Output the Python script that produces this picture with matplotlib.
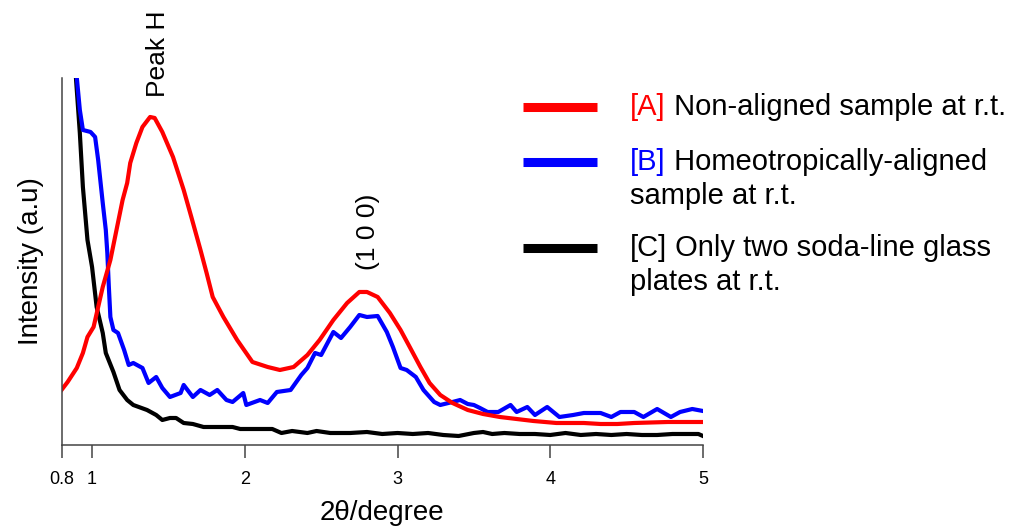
import matplotlib
matplotlib.use("Agg")
import matplotlib.pyplot as plt
from matplotlib.lines import Line2D

plt.rcParams['font.family'] = ['Liberation Sans', 'DejaVu Sans']

# [A] non-aligned sample (red)
a_x = [0.80, 0.84, 0.90, 0.94, 0.97, 1.01, 1.04, 1.07, 1.12, 1.16, 1.20, 1.23, 1.25, 1.29,
       1.33, 1.38, 1.41, 1.46, 1.53, 1.60, 1.65, 1.71, 1.75, 1.79, 1.86, 1.95, 2.05, 2.15,
       2.23, 2.32, 2.41, 2.49, 2.58, 2.67, 2.75, 2.80, 2.87, 2.95, 3.02, 3.08, 3.15, 3.21,
       3.28, 3.36, 3.46, 3.56, 3.67, 3.78, 3.89, 4.04, 4.22, 4.33, 4.44, 4.55, 4.77, 5.00]
a_y = [55, 63, 77, 92, 108, 118, 138, 158, 185, 215, 245, 262, 282, 302,
       318, 328, 327, 313, 288, 255, 228, 195, 172, 148, 128, 105, 83, 78,
       75, 78, 90, 105, 125, 142, 153, 153, 148, 132, 115, 98, 78, 62,
       50, 42, 35, 31, 28, 26, 24, 22, 22, 21, 21, 22, 23, 23]

# [B] homeotropically-aligned sample (blue)
b_x = [0.88, 0.92, 0.94, 0.99, 1.02, 1.04, 1.07, 1.09, 1.10, 1.11, 1.12, 1.14, 1.17, 1.21,
       1.24, 1.27, 1.33, 1.37, 1.42, 1.46, 1.51, 1.58, 1.60, 1.66, 1.71, 1.77, 1.82, 1.88,
       1.92, 1.99, 2.01, 2.10, 2.15, 2.21, 2.30, 2.37, 2.41, 2.46, 2.50, 2.58, 2.63, 2.69,
       2.75, 2.80, 2.87, 2.93, 2.97, 3.02, 3.06, 3.12, 3.17, 3.24, 3.28, 3.36, 3.41, 3.46,
       3.50, 3.54, 3.59, 3.66, 3.74, 3.78, 3.85, 3.90, 3.98, 4.06, 4.15, 4.22, 4.33, 4.40,
       4.46, 4.55, 4.61, 4.70, 4.79, 4.85, 4.93, 5.00]
b_y = [400, 335, 315, 313, 308, 285, 242, 215, 192, 158, 128, 115, 112, 95,
       80, 82, 77, 62, 68, 57, 48, 52, 60, 48, 55, 50, 55, 45,
       43, 52, 40, 45, 42, 53, 55, 70, 77, 92, 90, 113, 107, 118,
       130, 128, 129, 113, 98, 77, 75, 68, 55, 43, 40, 43, 45, 41,
       40, 37, 33, 33, 40, 33, 38, 30, 38, 28, 30, 32, 32, 28,
       33, 33, 28, 36, 28, 33, 36, 34]

# [C] two soda-lime glass plates only (black)
c_x = [0.87, 0.92, 0.94, 0.97, 1.00, 1.03, 1.07, 1.09, 1.14, 1.18, 1.23, 1.27, 1.36, 1.42,
       1.46, 1.51, 1.55, 1.60, 1.66, 1.73, 1.92, 1.97, 2.05, 2.18, 2.24, 2.31, 2.41, 2.47,
       2.56, 2.69, 2.80, 2.90, 3.00, 3.10, 3.20, 3.30, 3.40, 3.50, 3.56, 3.62, 3.70, 3.80,
       3.90, 4.00, 4.10, 4.20, 4.30, 4.40, 4.50, 4.60, 4.70, 4.80, 4.90, 4.97, 5.00]
c_y = [420, 312, 258, 205, 178, 138, 112, 92, 73, 55, 45, 40, 35, 30,
       25, 27, 27, 22, 21, 18, 18, 16, 16, 16, 12, 14, 12, 14,
       12, 12, 13, 11, 12, 11, 12, 10, 9, 12, 13, 11, 12, 11,
       11, 10, 12, 10, 11, 10, 11, 10, 10, 11, 11, 11, 9]

xticks = [0.8, 1, 2, 3, 4, 5]
xticklabels = ['0.8', '1', '2', '3', '4', '5']

fig = plt.figure(figsize=(10.1, 5.29), dpi=100)
ax = fig.add_axes([0.0609, 0.1588, 0.6351, 0.6938])

ax.plot(c_x, c_y, color='black', lw=3)
ax.plot(b_x, b_y, color='#0000ff', lw=3)
ax.plot(a_x, a_y, color='#ff0000', lw=3)

ax.set_xlim(0.8, 5)
ax.set_ylim(0, 367)
ax.set_yticks([])
ax.set_xticks(xticks)
ax.set_xticklabels(xticklabels, fontsize=13)
ax.tick_params(axis='x', direction='out', length=9, width=1.1, color='#444444', pad=10)
for s in ['top', 'right']:
    ax.spines[s].set_visible(False)
for s in ['left', 'bottom']:
    ax.spines[s].set_color('#444444')
    ax.spines[s].set_linewidth(1.1)

ax.set_xlabel('2θ/degree', fontsize=20, va='center')
ax.xaxis.set_label_coords(0.5, -0.186)
ax.set_ylabel('Intensity (a.u)', fontsize=20, va='center')
ax.yaxis.set_label_coords(-0.048, 0.50)

ax.text(1.43, 348, 'Peak H', rotation=90, fontsize=19, ha='center', va='bottom')
ax.text(2.81, 213, '(1 0 0)', rotation=90, fontsize=19, ha='center', va='center')

# legend drawn by hand so the [A]/[B] tags can be coloured
rows = [(107, '#ff0000', '[A]', ' Non-aligned sample at r.t.', None),
        (162, '#0000ff', '[B]', ' Homeotropically-aligned', 'sample at r.t.'),
        (248, 'black', '[C]', ' Only two soda-line glass', 'plates at r.t.')]
for ypix, col, tag, rest, second in rows:
    yf = 1 - ypix / 529
    fig.add_artist(Line2D([523 / 1010, 597 / 1010], [yf, yf], color=col, lw=6.5,
                          solid_capstyle='butt'))
    t = fig.text(630 / 1010, yf, tag, color=col, fontsize=21, va='center')
    ax.annotate(rest, xy=(1, 0.5), xycoords=t, fontsize=21, va='center', ha='left',
                annotation_clip=False)
    if second:
        fig.text(630 / 1010, yf - 34 / 529, second, color='black', fontsize=21, va='center')

fig.savefig('out.png', dpi=100)
